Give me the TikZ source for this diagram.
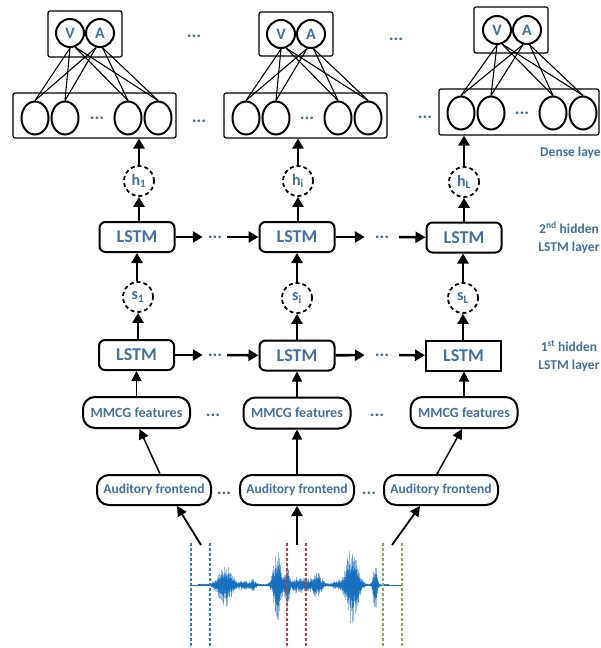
\documentclass[tikz,border=0pt]{standalone}
\usepackage{fontspec}
\setmainfont{Carlito}
\usetikzlibrary{arrows.meta,shapes.geometric}
\definecolor{txt}{RGB}{65,113,156}
\definecolor{wave}{RGB}{20,110,190}
\definecolor{dblue}{RGB}{40,130,200}
\definecolor{dred}{RGB}{220,50,50}
\definecolor{dgreen}{RGB}{120,180,70}
\newcommand{\myfs}[1]{\fontsize{#1}{#1}\selectfont}
\tikzset{
  lbl/.style={text=txt, font=\bfseries\fontsize{13.5}{18}\selectfont, inner sep=0pt},
  lstm/.style={draw, line width=2pt, rounded corners=6pt, minimum width=75pt, minimum height=30pt, inner sep=0pt, text=txt, font=\bfseries\myfs{18}},
  feat/.style={draw, line width=2pt, rounded corners=12pt, minimum width=107pt, minimum height=31pt, inner sep=0pt, text=txt, font=\bfseries\myfs{14}},
  aud/.style={feat, minimum width=114pt, minimum height=30pt, font=\bfseries\myfs{13.5}},
  hid/.style={draw, circle, dash pattern=on 4pt off 3pt, line width=1.8pt, minimum size=30pt, inner sep=0pt, text=txt, font=\bfseries\myfs{16}},
  va/.style={draw, circle, line width=2pt, minimum size=28pt, inner sep=0pt, text=txt, font=\bfseries\myfs{16}},
  neu/.style={draw, ellipse, line width=2pt, minimum width=27pt, minimum height=33pt, inner sep=0pt},
  vbox/.style={draw, line width=1.2pt, rounded corners=2pt, inner sep=0pt},
  dots/.style={text=txt, font=\bfseries\myfs{18}, inner sep=0pt},
  tarr/.style={line width=2.6pt, -{Triangle[length=10pt,width=11pt]}},
  narr/.style={line width=1.5pt, -{Triangle[length=10pt,width=10pt]}},
  fc/.style={line width=1.1pt},
  cut/.style={line width=1.2pt, dash pattern=on 3pt off 2pt},
}
\begin{document}
\begin{tikzpicture}[x=1pt,y=-1pt]
\useasboundingbox (0,0) rectangle (601,648);

% ---------- output layers ----------
\node[vbox, minimum width=74pt, minimum height=46pt] (vab1) at (85,34) {};
\node[vbox, minimum width=74pt, minimum height=44pt] (vab2) at (296,34) {};
\node[vbox, minimum width=74pt, minimum height=46pt] (vab3) at (511,30) {};
\node[va] (V1) at (70,33) {V};  \node[va] (A1) at (100,33) {A};
\node[va] (V2) at (281,34) {V}; \node[va] (A2) at (311,34) {A};
\node[va] (V3) at (497,30) {V}; \node[va] (A3) at (527,30) {A};

\node[vbox, minimum width=163pt, minimum height=45pt] (db1) at (94.5,115.5) {};
\node[vbox, minimum width=163pt, minimum height=45pt] (db2) at (305.5,115.5) {};
\node[vbox, minimum width=160pt, minimum height=46pt] (db3) at (519,112) {};

\node[neu] (n11) at (35,118) {};  \node[neu] (n12) at (65,118) {};
\node[neu] (n13) at (128,118) {}; \node[neu] (n14) at (158,118) {};
\node[neu] (n21) at (246,118) {}; \node[neu] (n22) at (276,118) {};
\node[neu] (n23) at (338,118) {}; \node[neu] (n24) at (368,118) {};
\node[neu] (n31) at (461,113) {}; \node[neu] (n32) at (491,113) {};
\node[neu] (n33) at (553,113) {}; \node[neu] (n34) at (583,113) {};
\node[dots] (nd1) at (97,118) {...};
\node[dots] (nd2) at (307,118) {...};
\node[dots] (nd3) at (522,113) {...};

\foreach \k in {1,2,3}{
  \foreach \j in {1,2}{
    \draw[fc] (V\k.south) -- (n\k\j.north);
    \draw[fc] (A\k.-105) -- (n\k\j.north);
  }
  \foreach \j in {3,4}{
    \draw[fc] (V\k.-70) -- (n\k\j.north);
    \draw[fc] (A\k.-80) -- (n\k\j.north);
  }
}

\node[dots] (td1) at (194,36) {...};
\node[dots] (td2) at (396,39) {...};
\node[dots] (bd1) at (199,121) {...};
\node[dots] (bd2) at (425,117) {...};

% ---------- hidden outputs ----------
\node[hid] (h1) at (139,181) {h\textsubscript{1}};
\node[hid] (h2) at (298,181) {h\textsubscript{i}};
\node[hid] (h3) at (464,182) {h\textsubscript{L}};

% ---------- LSTM layers ----------
\node[lstm] (lu1) at (137,237) {LSTM};
\node[lstm] (lu2) at (297,237) {LSTM};
\node[lstm] (lu3) at (464,237.5) {LSTM};
\node[hid] (s1) at (138,297) {s\textsubscript{1}};
\node[hid] (s2) at (297,298) {s\textsubscript{i}};
\node[hid] (s3) at (463,298) {s\textsubscript{L}};
\node[lstm] (ll1) at (136.5,355) {LSTM};
\node[lstm] (ll2) at (297,355.5) {LSTM};
\node[lstm, sharp corners] (ll3) at (463.5,355.5) {LSTM};

\node[dots, minimum width=24pt] (du1) at (215,237) {...};
\node[dots, minimum width=34pt] (du2) at (382,237) {...};
\node[dots, minimum width=24pt] (dl1) at (215,355) {...};
\node[dots, minimum width=34pt] (dl2) at (382,355) {...};

\draw[tarr] (lu1) -- (du1);
\draw[tarr] (du1) -- (lu2);
\draw[tarr] (lu2) -- (du2);
\draw[tarr] (du2) -- (lu3);
\draw[tarr] (ll1) -- (dl1);
\draw[tarr] (dl1) -- (ll2);
\draw[tarr] (ll2) -- (dl2);
\draw[tarr] (dl2) -- (ll3);

\draw[tarr] (h1.north) -- (h1.north |- db1.south);
\draw[tarr] (h2.north) -- (h2.north |- db2.south);
\draw[tarr] (h3.north) -- (h3.north |- db3.south);
\draw[tarr] (lu1.north -| h1) -- (h1.south);
\draw[tarr] (lu2.north -| h2) -- (h2.south);
\draw[tarr] (lu3.north) -- (h3.south -| lu3);
\draw[tarr] (s1.north -| lu1) -- (lu1.south);
\draw[tarr] (s2) -- (lu2);
\draw[tarr] (s3.north) -- (s3.north |- lu3.south);
\draw[tarr] (ll1.north -| s1) -- (s1.south);
\draw[tarr] (ll2) -- (s2);
\draw[tarr] (ll3.north -| s3) -- (s3.south);

% ---------- features ----------
\node[feat] (mm1) at (136.5,412.5) {MMCG features};
\node[feat] (mm2) at (297,413) {MMCG features};
\node[feat] (mm3) at (464,412.5) {MMCG features};
\node[dots] (md1) at (213,415) {...};
\node[dots] (md2) at (377,415) {...};
\draw[narr] (mm1) -- (ll1.south -| mm1);
\draw[narr] (mm2) -- (ll2);
\draw[narr] (mm3.north) -- (ll3.south -| mm3);

\node[aud] (aud1) at (154,490) {Auditory frontend};
\node[aud] (aud2) at (297,490) {Auditory frontend};
\node[aud] (aud3) at (441,490) {Auditory frontend};
\node[dots] (ad1) at (224,493) {...};
\node[dots] (ad2) at (369,493) {...};
\draw[narr] ([xshift=6pt]aud1.north) -- ([xshift=3pt]mm1.south);
\draw[narr] (aud2) -- (mm2);
\draw[narr] ([xshift=-4pt]aud3.north) -- ([xshift=-2pt]mm3.south);

% ---------- waveform ----------
\coordinate (w1) at (201,545);
\coordinate (w2) at (297,545);
\coordinate (w3) at (392,545);
\draw[narr, line width=1.8pt] (w1) -- ([xshift=23pt]aud1.south);
\draw[tarr] (w2) -- (aud2.south);
\draw[narr, line width=1.8pt] (w3) -- ([xshift=-21pt]aud3.south);

\pgfmathsetseed{7}
\draw[wave, line width=0.8pt] (191,585) -- (402,585);
\foreach \i in {0,...,380}{
  \pgfmathsetmacro{\xx}{198+\i*0.5}
  \pgfmathsetmacro{\en}{1.2+22*exp(-min(((\xx-225)/8)^2,30))+36*exp(-min(((\xx-277)/4.5)^2,30))+22*exp(-min(((\xx-287)/2.5)^2,30))+9*exp(-min(((\xx-300)/9)^2,30))+12*exp(-min(((\xx-317)/6)^2,30))+40*exp(-min(((\xx-352)/7)^2,30))+28*exp(-min(((\xx-375)/2.2)^2,30))+5*exp(-min(((\xx-253)/3)^2,30))+4*exp(-min(((\xx-244)/6)^2,30))+4*exp(-min(((\xx-336)/5)^2,30))}
  \pgfmathsetmacro{\up}{\en*(0.35+0.65*rnd)}
  \pgfmathsetmacro{\dn}{\en*(0.35+0.65*rnd)}
  \draw[wave, line width=0.6pt, opacity=0.45] (\xx,585-\up) -- (\xx,585+\dn);
  \draw[wave, line width=0.6pt, opacity=0.8] (\xx,585-0.6*\up) -- (\xx,585+0.6*\dn);
}

\draw[cut, dblue] (191,543) -- (191,648);
\draw[cut, dblue] (210,543) -- (210,648);
\draw[cut, dred] (287,543) -- (287,648);
\draw[cut, dred] (306,543) -- (306,648);
\draw[cut, dgreen] (383,543) -- (383,648);
\draw[cut, dgreen] (402,543) -- (402,648);

% ---------- labels ----------
\node[lbl, anchor=west] (dlab) at (540,153) {Dense laye};
\node[lbl, align=center] (lab2) at (569,238) {2\textsuperscript{nd} hidden\\LSTM layer};
\node[lbl, align=center] (lab1) at (569,356) {1\textsuperscript{st} hidden\\LSTM layer};
\end{tikzpicture}
\end{document}
